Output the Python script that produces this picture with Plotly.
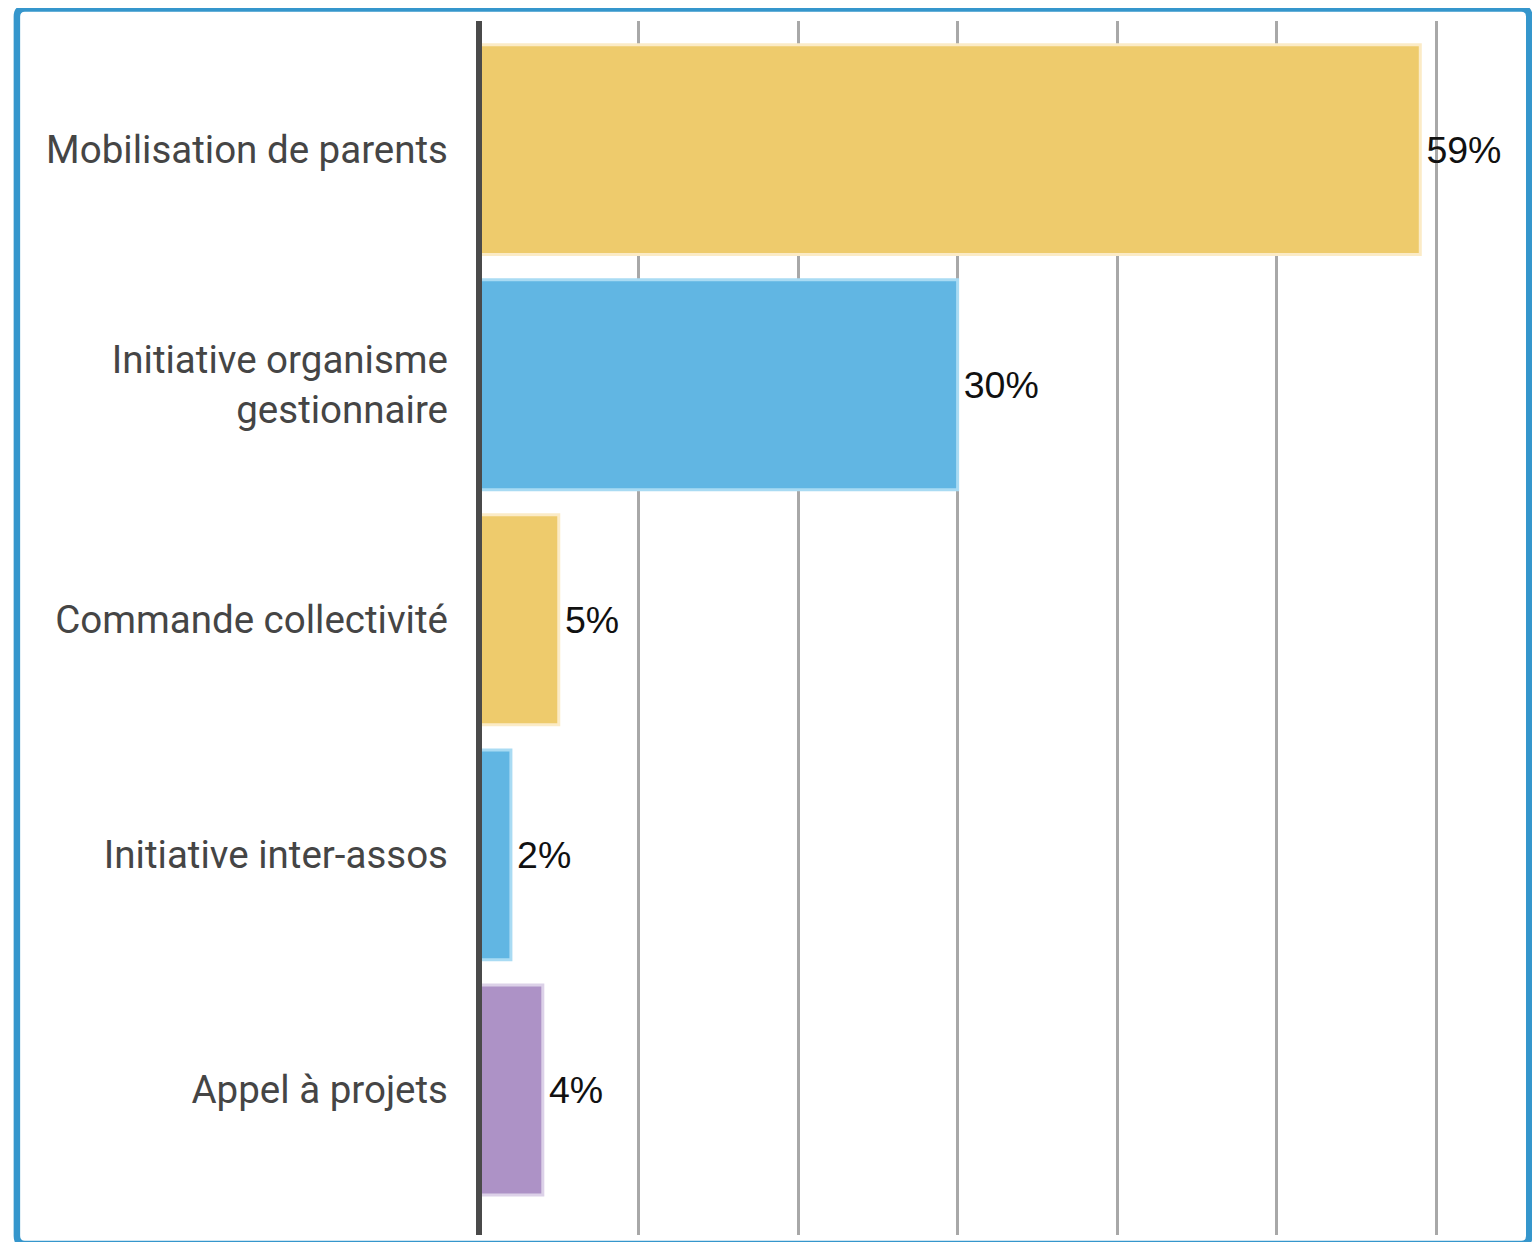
import plotly.graph_objects as go

categories = ["Mobilisation de parents", "Initiative organisme<br>gestionnaire",
              "Commande collectivité", "Initiative inter-assos", "Appel à projets"]
values = [59, 30, 5, 2, 4]
fill_colors = ["#EECB6C", "#61B6E3", "#EECB6C", "#61B6E3", "#AD92C6"]
line_colors = ["#FBEBC6", "#A9DBF3", "#FBEBC6", "#A9DBF3", "#DCD1E8"]

# page has an 8px body margin, so figure coords = page coords - 8
W, H = 1532, 1234
L, R, T, B = 471, 24.25, 13, 7
pw, ph = W - L - R, H - T - B

def px(x):
    return (x - L) / pw

def py(y):
    return 1 - (y - T) / ph

fig = go.Figure(go.Bar(
    y=categories, x=values, orientation="h",
    marker=dict(color=fill_colors, line=dict(color=line_colors, width=3)),
    width=0.893,
    text=[f"\u200a{v}%" for v in values], textposition="outside",
    textfont=dict(family="Liberation Sans, Arial", size=37.5, color="#111111"),
    cliponaxis=False, hoverinfo="skip",
))

# rounded frame
x0, x1, y0, y1, r = 9, 1521, 0.5, 1236, 8
path = (f"M {px(x0+r)},{py(y0)} L {px(x1-r)},{py(y0)} Q {px(x1)},{py(y0)} {px(x1)},{py(y0+r)} "
        f"L {px(x1)},{py(y1-r)} Q {px(x1)},{py(y1)} {px(x1-r)},{py(y1)} "
        f"L {px(x0+r)},{py(y1)} Q {px(x0)},{py(y1)} {px(x0)},{py(y1-r)} "
        f"L {px(x0)},{py(y0+r)} Q {px(x0)},{py(y0)} {px(x0+r)},{py(y0)} Z")

fig.update_layout(
    width=W, height=H,
    margin=dict(l=L, r=R, t=T, b=B, pad=0),
    paper_bgcolor="white", plot_bgcolor="white",
    showlegend=False,
    xaxis=dict(range=[0, 65], dtick=10, showgrid=True, gridcolor="#A8A8A8", gridwidth=3,
               zeroline=False, showticklabels=False, ticks="", showline=False, fixedrange=True),
    yaxis=dict(type="category", range=[4.617, -0.547], showgrid=False, zeroline=False,
               ticks="", showline=False, ticklabelstandoff=30,
               tickfont=dict(family="Roboto", size=38.5, color="#454545")),
    shapes=[
        dict(type="line", xref="paper", yref="paper", x0=0, x1=0, y0=0, y1=1,
             line=dict(color="#4A4A4A", width=6), layer="above"),
        dict(type="path", xref="paper", yref="paper", path=path,
             line=dict(color="#3596CC", width=6.5), layer="above"),
    ],
)

fig.write_html("out.html")
